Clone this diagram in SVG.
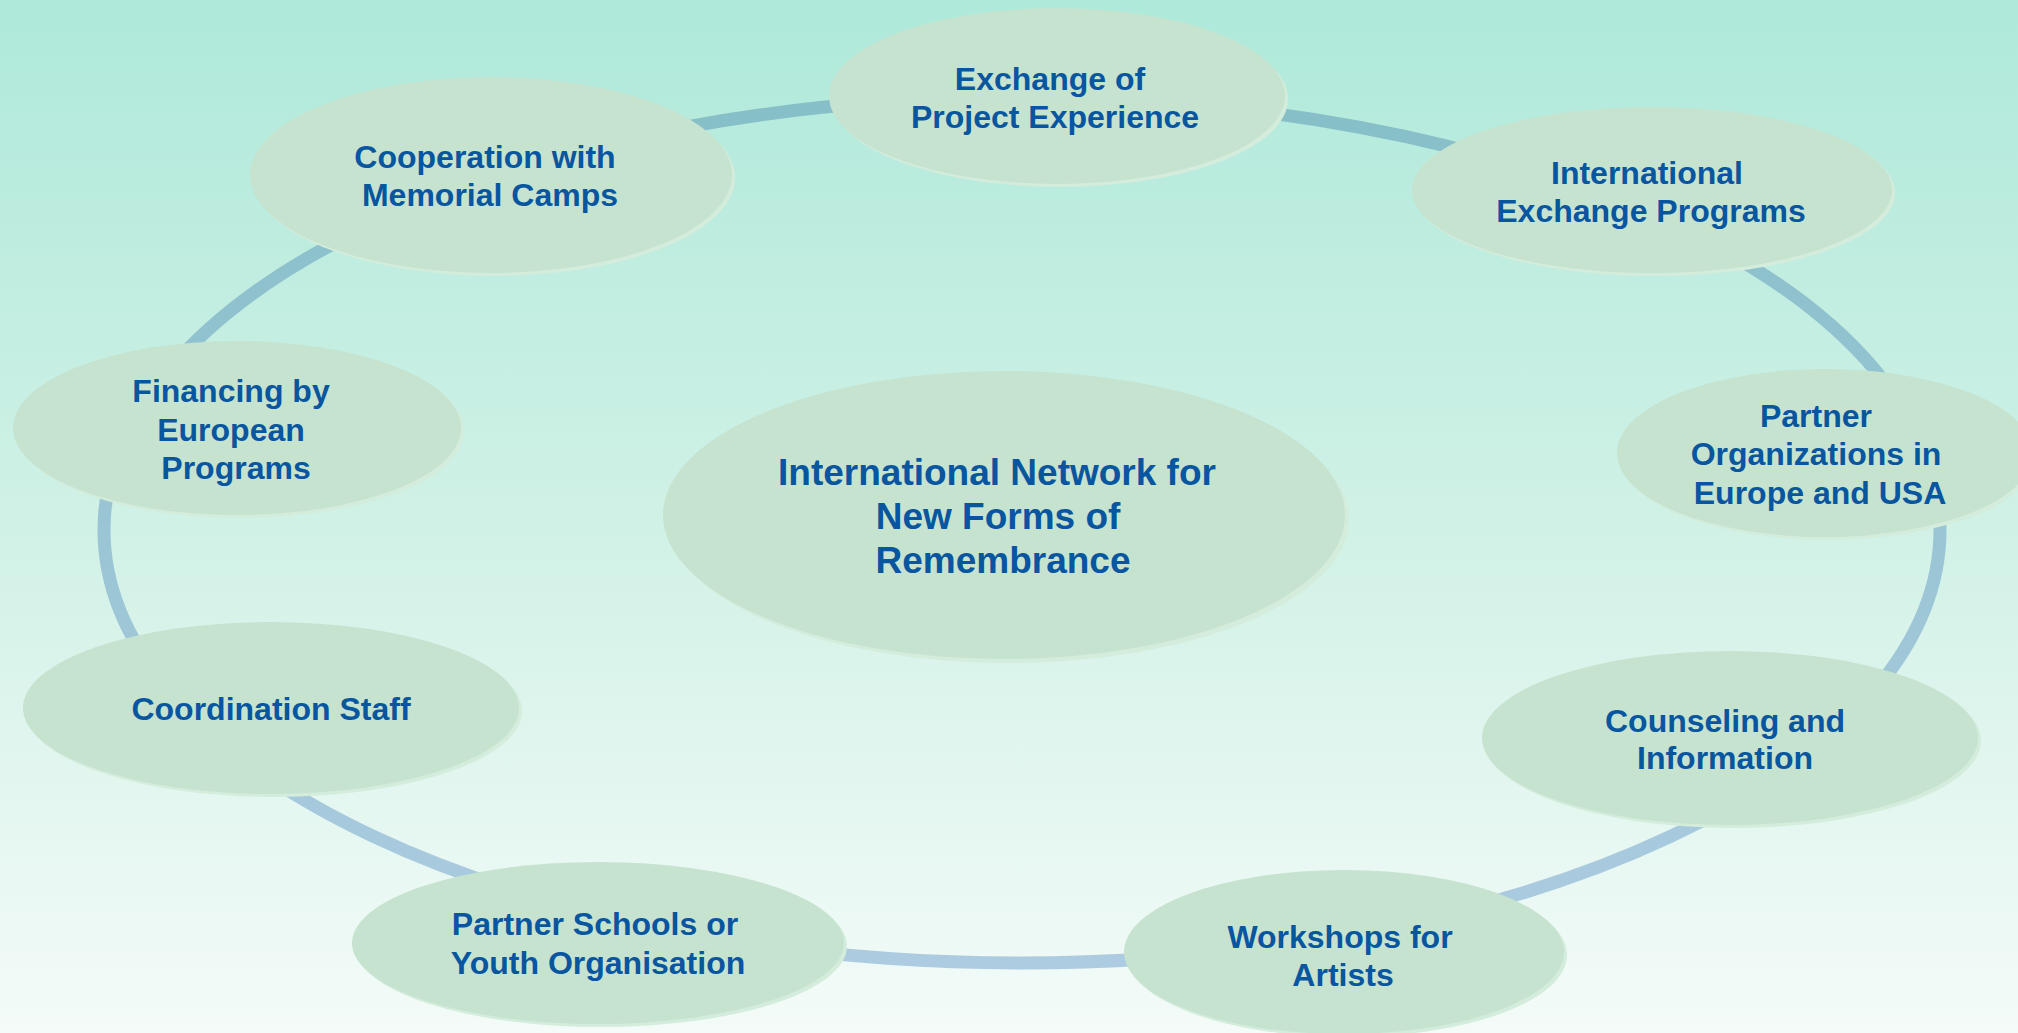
<svg xmlns="http://www.w3.org/2000/svg" width="2018" height="1033" viewBox="0 0 2018 1033">
<defs>
<linearGradient id="bg" x1="0" y1="0" x2="0" y2="1">
<stop offset="0" stop-color="#aee9da"/>
<stop offset="0.5" stop-color="#d0f1e6"/>
<stop offset="1" stop-color="#f4fbf8"/>
</linearGradient>
<linearGradient id="ringg" gradientUnits="userSpaceOnUse" x1="0" y1="95" x2="0" y2="968">
<stop offset="0" stop-color="#86bfc8"/>
<stop offset="1" stop-color="#adcbe1"/>
</linearGradient>
<style>
.node ellipse.f{fill:#c6e3cf}
.node ellipse.s{fill:#d3ecdc}
.node text{font-family:"Liberation Sans",Arial,sans-serif;font-weight:bold;font-size:32px;fill:#0855a0;text-anchor:middle}
#center text{font-size:37px}
</style>
</defs>
<rect x="0" y="0" width="2018" height="1033" fill="url(#bg)"/>
<g id="connectors">
<ellipse cx="1022" cy="530" rx="918" ry="433" fill="none" stroke="url(#ringg)" stroke-width="13"/>
</g>
<g id="exchange-project" class="node">
<ellipse class="s" cx="1060" cy="99" rx="228" ry="88"/>
<ellipse class="f" cx="1057" cy="96" rx="228" ry="88"/>
<text x="1050" y="90">Exchange of</text>
<text x="1055" y="128">Project Experience</text>
</g>
<g id="memorial-camps" class="node">
<ellipse class="s" cx="494" cy="178" rx="241" ry="98"/>
<ellipse class="f" cx="491" cy="175" rx="241" ry="98"/>
<text x="485" y="168">Cooperation with</text>
<text x="490" y="206">Memorial Camps</text>
</g>
<g id="exchange-programs" class="node">
<ellipse class="s" cx="1655" cy="193" rx="240" ry="83"/>
<ellipse class="f" cx="1652" cy="190" rx="240" ry="83"/>
<text x="1647" y="184">International</text>
<text x="1651" y="222">Exchange Programs</text>
</g>
<g id="financing" class="node">
<ellipse class="s" cx="240" cy="431" rx="224" ry="87"/>
<ellipse class="f" cx="237" cy="428" rx="224" ry="87"/>
<text x="231" y="402">Financing by</text>
<text x="231" y="441">European</text>
<text x="236" y="479">Programs</text>
</g>
<g id="center" class="node">
<ellipse class="s" cx="1008" cy="519" rx="341" ry="144"/>
<ellipse class="f" cx="1004" cy="515" rx="341" ry="144"/>
<text x="997" y="485">International Network for</text>
<text x="998" y="529">New Forms of</text>
<text x="1003" y="573">Remembrance</text>
</g>
<g id="partner-orgs" class="node">
<ellipse class="s" cx="1828" cy="456" rx="208" ry="84"/>
<ellipse class="f" cx="1825" cy="453" rx="208" ry="84"/>
<text x="1816" y="427">Partner</text>
<text x="1816" y="465">Organizations in</text>
<text x="1820" y="504">Europe and USA</text>
</g>
<g id="coordination" class="node">
<ellipse class="s" cx="274" cy="711" rx="248" ry="86"/>
<ellipse class="f" cx="271" cy="708" rx="248" ry="86"/>
<text x="271" y="720">Coordination Staff</text>
</g>
<g id="counseling" class="node">
<ellipse class="s" cx="1733" cy="741" rx="248" ry="87"/>
<ellipse class="f" cx="1730" cy="738" rx="248" ry="87"/>
<text x="1725" y="732">Counseling and</text>
<text x="1725" y="769">Information</text>
</g>
<g id="partner-schools" class="node">
<ellipse class="s" cx="601" cy="946" rx="246" ry="81"/>
<ellipse class="f" cx="598" cy="943" rx="246" ry="81"/>
<text x="595" y="935">Partner Schools or</text>
<text x="598" y="974">Youth Organisation</text>
</g>
<g id="workshops" class="node">
<ellipse class="s" cx="1347" cy="955" rx="220" ry="82"/>
<ellipse class="f" cx="1344" cy="952" rx="220" ry="82"/>
<text x="1340" y="948">Workshops for</text>
<text x="1343" y="986">Artists</text>
</g>
</svg>
